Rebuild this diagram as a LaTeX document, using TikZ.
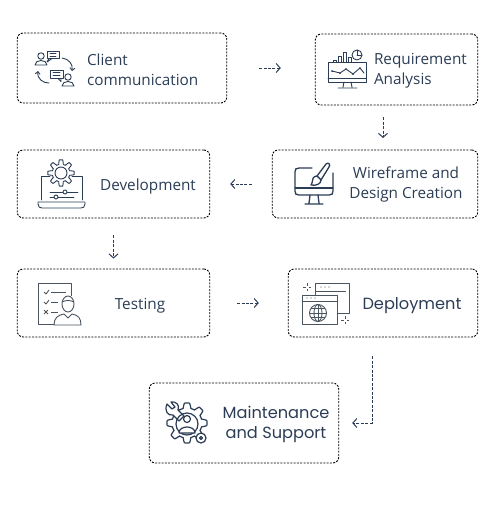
\documentclass[tikz,border=0pt]{standalone}
\usepackage{fontspec}
\setmainfont{Open Sans}
\newfontfamily\roundfont{Poppins}
\usetikzlibrary{arrows.meta}
\definecolor{palettenavy}{HTML}{2B3D55}
\definecolor{palettegrey}{HTML}{4A5560}
\tikzset{
  stagebox/.style={draw=black, line width=0.9pt, dash pattern=on 2pt off 1.3pt, rounded corners=6pt, inner sep=0pt},
  stagelabel/.style={align=center, text=palettenavy, font=\fontsize{15.3}{20}\selectfont},
  roundlabel/.style={align=center, text=palettenavy, font=\roundfont\fontsize{16.2}{20}\selectfont},
  flowarrow/.style={draw=palettenavy, line width=1pt, dash pattern=on 3pt off 1.4pt, -{Straight Barb[length=4pt,width=9pt]}},
  iconline/.style={draw=palettenavy, line width=0.9pt, line join=round, line cap=round},
  icongrey/.style={draw=palettegrey, line width=0.9pt, line join=round}
}
\begin{document}
\begin{tikzpicture}[x=1pt, y=-1pt]
\useasboundingbox (0,0) rectangle (500,515);
% boxes
\node[stagebox, minimum width=209.5pt, minimum height=70pt] (client) at (122,68) {};
\node[stagebox, minimum width=162.5pt, minimum height=71pt] (req) at (396.5,69.5) {};
\node[stagebox, minimum width=205.5pt, minimum height=68pt] (wire) at (375,184) {};
\node[stagebox, minimum width=192.5pt, minimum height=68pt] (dev) at (113.5,184) {};
\node[stagebox, minimum width=192.5pt, minimum height=68pt] (test) at (113.5,303) {};
\node[stagebox, minimum width=189.5pt, minimum height=68pt] (deploy) at (383,303) {};
\node[stagebox, minimum width=189.5pt, minimum height=80pt] (maint) at (244,423) {};
% labels
\node[stagelabel, align=left, anchor=west] (clientlabel) at (83.5,70) {Client\\communication};
\node[stagelabel, align=left, anchor=west] (reqlabel) at (370.5,70.5) {Requirement\\Analysis};
\node[stagelabel] (wirelabel) at (406,184) {Wireframe and\\Design Creation};
\node[stagelabel] (devlabel) at (148,186.5) {Development};
\node[stagelabel] (testlabel) at (140,305.5) {Testing};
\node[roundlabel] (deploylabel) at (412,305.5) {Deployment};
\node[roundlabel] (maintlabel) at (276,424) {Maintenance\\and Support};
% arrows
\draw[flowarrow, shorten <=32pt, shorten >=34pt] (client.east) -- (req.west |- client.east);
\draw[flowarrow, shorten <=12pt, shorten >=12pt] ([xshift=-13.5pt]req.south) -- (383,150);
\draw[flowarrow, shorten <=20pt, shorten >=20pt] (wire.west) -- (dev.east);
\draw[flowarrow, shorten <=17pt, shorten >=10pt] (dev.south) -- (test.north);
\draw[flowarrow, shorten <=27pt, shorten >=29pt] (test.east) -- (deploy.west);
\draw[flowarrow, shorten <=19pt, shorten >=13pt] ([xshift=-11pt]deploy.south) |- (maint.east);
% client icon
\draw[iconline] (41,56) circle (3.2);
\draw[iconline] (35,65) .. controls (35,59) and (47,59) .. (47,65) -- cycle;
\draw[iconline] (47,51) rectangle (59,58.5);
\draw[iconline] (49,58.5) -- (47,62) -- (52,58.5);
\draw[iconline] (50,53.5) -- (56,53.5) (50,56) -- (56,56);
\draw[iconline, -{Straight Barb[length=2.5pt,width=5pt]}] (62,58) .. controls (69,59) and (73,64) .. (72,71);
\draw[iconline, -{Straight Barb[length=2.5pt,width=5pt]}] (49,83) .. controls (43,83) and (37,79) .. (38,71);
\draw[iconline] (50,70) rectangle (63,78.5);
\draw[iconline] (58,78.5) -- (61,81.5) -- (61,78.5);
\draw[iconline] (53,72.5) -- (60,72.5) (53,75.5) -- (60,75.5);
\draw[iconline] (68,77) circle (3.2);
\draw[iconline] (62,86) .. controls (62,80) and (74,80) .. (74,86) -- cycle;
% requirement icon
\draw[iconline] (328,62) rectangle (366,82);
\draw[iconline] (328,78) -- (366,78);
\draw[iconline] (344,82) -- (343,87) (351,82) -- (352,87) (338,88) -- (357,88);
\foreach \barx/\bartop in {333/60,338/56,343/52,348/57}
  \draw[iconline, fill=white] (\barx,62) -- (\barx,\bartop) -- (\barx+3.5,\bartop) -- (\barx+3.5,62);
\draw[iconline, fill=white] (357,55) circle (5);
\draw[iconline] (357,55) -- (357,50) (357,55) -- (362,55);
\draw[iconline] (332,71) -- (340,73) -- (346,69) -- (353,74) -- (360,68) -- (364,73);
\foreach \dotx/\doty in {332/71,340/73,346/69,353/74,360/68}
  \fill[palettenavy] (\dotx,\doty) circle (1);
% wireframe icon
\draw[iconline, line width=1.3pt] (312,168) -- (299,168) .. controls (296,168) and (295,169) .. (295,172) -- (295,191) .. controls (295,194) and (296,195) .. (299,195) -- (329,195) .. controls (332,195) and (333,194) .. (333,191) -- (333,173);
\draw[iconline, line width=1.3pt] (295,188) -- (333,188);
\draw[iconline, line width=1.3pt] (310,195) -- (309,203) (318,195) -- (319,203) (305,204) -- (323,204);
\draw[iconline, line width=1.3pt, fill=white] (317,176) -- (326,164) .. controls (328,162) and (331,164) .. (329,167) -- (321,180) -- cycle;
\draw[iconline, line width=1.3pt, fill=white] (317,176) .. controls (313,176) and (312,180) .. (312,183) -- (311,185) .. controls (316,186) and (321,184) .. (321,180) -- cycle;
% development icon
\draw[iconline] (50,176) -- (41,176) -- (41,200) (72,176) -- (82,176) -- (82,200);
\draw[iconline] (38,202) -- (85,202) -- (85,204) .. controls (85,207) and (83,208) .. (81,208) -- (42,208) .. controls (40,208) and (38,207) .. (38,204) -- cycle;
\draw[iconline, fill=white] plot[samples=97, domain=0:360] ({61+(11+2.2*min(1,max(-1,2*cos(8*\x))))*cos(\x)}, {173+(11+2.2*min(1,max(-1,2*cos(8*\x))))*sin(\x)});
\draw[iconline] (61,173) circle (6);
\draw[iconline] (50,192) -- (78,192) (50,197) -- (74,197);
\fill[white] (65,192) circle (2.2) (56,197) circle (2.2);
\draw[iconline] (65,192) circle (2) (56,197) circle (2);
% testing icon
\draw[icongrey] (66,324) -- (38,324) -- (38,283) -- (71,283) -- (71,296);
\draw[icongrey] (44,292) -- (46,294) -- (49,290) (44,302) -- (46,304) -- (49,300);
\draw[icongrey] (44,310) -- (48,314) (48,310) -- (44,314);
\draw[icongrey] (51,292) -- (66,292) (51,302) -- (58,302) (51,312) -- (58,312);
\draw[icongrey, fill=white] (68,304) ellipse (6 and 8);
\draw[icongrey] (62,302) .. controls (66,300) and (70,300) .. (74,302);
\draw[icongrey, fill=white] (54,325) .. controls (54,318) and (58,315) .. (64,314) -- (68,318) -- (72,314) .. controls (78,315) and (81,318) .. (81,325) -- cycle;
% deployment icon
\draw[icongrey] (315,295) -- (315,283) -- (349,283) -- (349,313) -- (338,313);
\draw[icongrey] (315,291) -- (346,291);
\draw[icongrey] (302,295) rectangle (337,324);
\draw[icongrey] (302,301) -- (337,301);
\foreach \dotx in {307,311,315} \fill[palettegrey] (\dotx,298) circle (0.7);
\foreach \dotx in {321,325,329} \fill[palettegrey] (\dotx,287) circle (0.7);
\draw[icongrey] (318,313) circle (8.5);
\draw[icongrey] (318,313) ellipse (4 and 8.5);
\draw[icongrey] (318,304.5) -- (318,321.5) (309.5,313) -- (326.5,313) (311,308.5) -- (325,308.5) (311,317.5) -- (325,317.5);
\foreach \sparkx/\sparky in {307/287,345/320}
  \draw[icongrey, line width=0.7pt] (\sparkx-4,\sparky) -- (\sparkx-1.5,\sparky) (\sparkx+1.5,\sparky) -- (\sparkx+4,\sparky) (\sparkx,\sparky-4) -- (\sparkx,\sparky-1.5) (\sparkx,\sparky+1.5) -- (\sparkx,\sparky+4);
% maintenance icon
\draw[iconline, line width=1.2pt] plot[samples=97, domain=0:360] ({187+(17.5+2.5*min(1,max(-1,2*cos(8*\x))))*cos(\x)}, {423+(17.5+2.5*min(1,max(-1,2*cos(8*\x))))*sin(\x)});
\draw[iconline, line width=1.2pt, fill=white] (167,404) .. controls (164,411) and (168,416) .. (173,415) -- (179,421) -- (184,416) -- (178,410) .. controls (180,405) and (176,401) .. (171,402) -- (175,407) -- (172,409) -- cycle;
\draw[iconline, line width=1.2pt] (187,424) circle (11);
\draw[iconline, line width=1.2pt, fill=white] (187,419) circle (3.5);
\draw[iconline, line width=1.2pt, fill=white] (179,433) .. controls (179,425) and (195,425) .. (195,433) -- cycle;
\draw[iconline, line width=1.2pt, fill=white] (201,438) circle (5);
\draw[iconline, line width=1.2pt] (201,438) circle (1.5);
\end{tikzpicture}
\end{document}
